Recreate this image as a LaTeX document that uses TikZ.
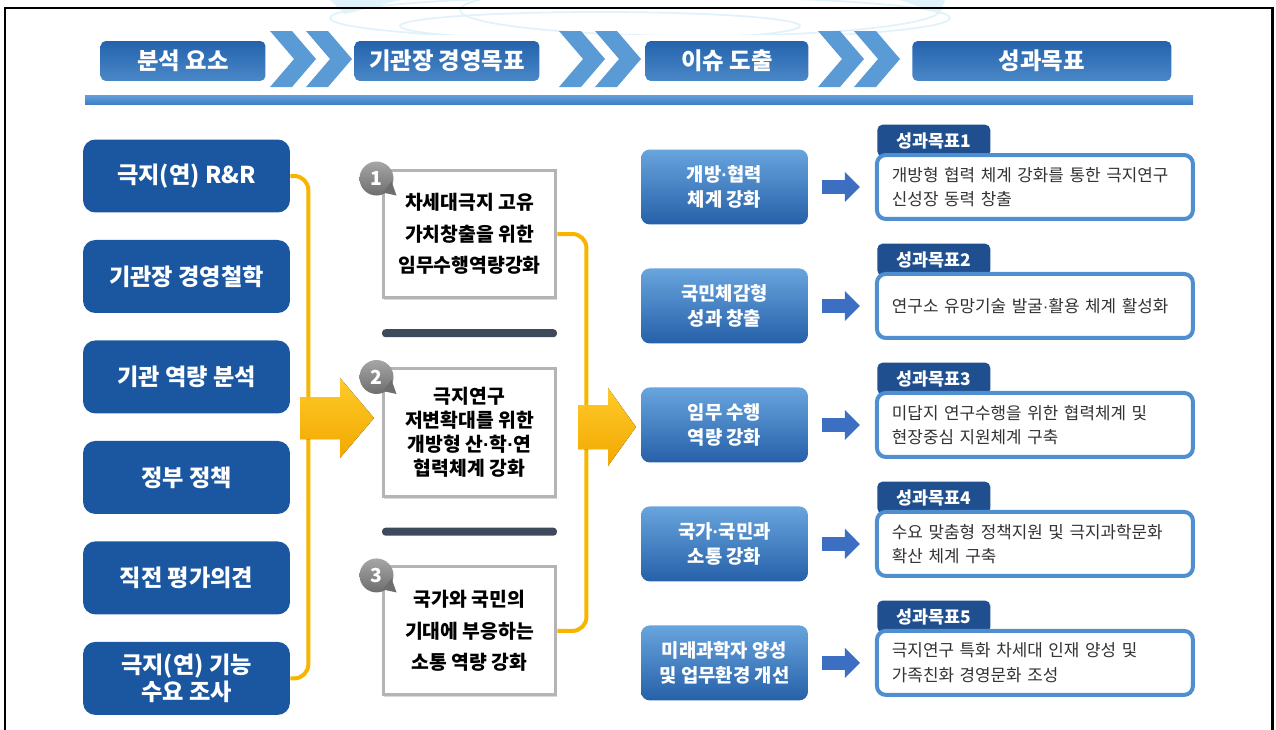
\documentclass[tikz,border=0pt]{standalone}
\usepackage{fontspec}
\setmainfont{Noto Sans CJK KR}
\newfontfamily\latinfont{Liberation Sans}
\newcommand{\mdot}{{\latinfont\bfseries ·}}
\usepackage{tikz}
\usetikzlibrary{arrows.meta,backgrounds,calc,positioning,shadows}

\definecolor{navy}{HTML}{1B57A0}
\definecolor{headtop}{HTML}{2463AC}
\definecolor{headbot}{HTML}{4A88C8}
\definecolor{chev}{HTML}{5B9BD5}
\definecolor{ruletop}{HTML}{64A1DA}
\definecolor{rulebot}{HTML}{3F80C4}
\definecolor{gold}{HTML}{F7B500}
\definecolor{ytop}{HTML}{FFCA2A}
\definecolor{ybot}{HTML}{F2A800}
\definecolor{framegray}{HTML}{B4B4B4}
\definecolor{slate}{HTML}{3E4A5C}
\definecolor{issuetop}{HTML}{68A4DD}
\definecolor{issuebot}{HTML}{2660A9}
\definecolor{goalblue}{HTML}{4F8FD0}
\definecolor{tabnavy}{HTML}{1F4F8F}
\definecolor{arrowblue}{HTML}{3C6EC2}
\definecolor{goaltext}{HTML}{333333}
\definecolor{badgetop}{HTML}{A6A6A6}
\definecolor{badgebot}{HTML}{6E6E6E}
\definecolor{wm}{HTML}{E0F2FA}

\tikzset{%
	head/.style      = {rounded corners=3pt, top color=headtop, bottom color=headbot, text=white, minimum height=0.8cm, font=\fontsize{13.3}{14}\selectfont\bfseries}, % step titles
	chevron/.style   = {fill=chev},
	factor/.style    = {rounded corners=7pt, fill=navy, text=white, minimum width=4.14cm, minimum height=1.46cm, align=center, font=\fontsize{13.2}{15.3}\selectfont\bfseries}, % analysis factors
	theme/.style     = {draw=framegray, line width=0.06cm, fill=white, minimum width=3.46cm, minimum height=2.56cm, align=center, drop shadow={shadow xshift=0.6pt, shadow yshift=-1.2pt, opacity=0.3}, font=\fontsize{11}{17.8}\selectfont\bfseries}, % management goals
	badge/.style     = {circle, top color=badgetop, bottom color=badgebot, text=white, minimum size=0.68cm, inner sep=0pt, font=\fontsize{11}{11}\selectfont\bfseries},
	divider/.style   = {fill=slate, rounded corners=2pt, minimum width=3.5cm, minimum height=0.16cm, inner sep=0pt},
	issue/.style     = {rounded corners=5pt, top color=issuetop, bottom color=issuebot, text=white, minimum width=3.34cm, minimum height=1.5cm, align=center, font=\fontsize{10.7}{14}\selectfont\bfseries}, % derived issues
	goal/.style      = {draw=goalblue, line width=0.08cm, rounded corners=5pt, fill=white, minimum height=1.28cm, text width=5.72cm, inner xsep=0.3cm, align=left, text=goaltext, font=\fontsize{9.6}{14}\selectfont}, % performance goals
	tab/.style       = {rounded corners=3pt, fill=tabnavy, text=white, minimum width=2.26cm, minimum height=0.64cm, inner sep=0pt, font=\fontsize{9.9}{10}\selectfont\bfseries},
	bracket/.style   = {draw=gold, line width=0.08cm, rounded corners=8pt},
	bigarrow/.style  = {top color=ytop, bottom color=ybot},
	goalarrow/.style = {draw=arrowblue, line width=0.28cm, -{Triangle[length=0.3cm, width=0.58cm]}, shorten <=0.28cm, shorten >=0.3cm},
}

\begin{document}
\begin{tikzpicture}[x=0.02cm, y=-0.02cm, node distance=2.01cm]
	\useasboundingbox (0,0) rectangle (1276,730);

	% faint logo behind the top edge
	\begin{scope}
		\clip (300,0) rectangle (960,34);
		\draw[wm, line width=1pt] (640,18) ellipse (310 and 22);
		\draw[wm, line width=1pt] (600,26) ellipse (200 and 14);
		\draw[wm, line width=1pt] (700,10) ellipse (240 and 26);
		\fill[wm] (330,0) -- (400,0) -- (345,14) -- cycle;
		\fill[wm] (900,0) -- (945,0) -- (940,14) -- cycle;
	\end{scope}
	\draw[line width=1.7pt] (5,730) -- (5,8) -- (1272,8) -- (1272,730);

	% title bar
	\node [head, minimum width=3.3cm] (h1) at (183,61) {분석 요소};
	\node [head, minimum width=3.7cm] (h2) [right of=h1, node distance=5.28cm] {기관장 경영목표};
	\node [head, minimum width=3.26cm] (h3) [right of=h2, node distance=5.6cm] {이슈 도출};
	\node [head, minimum width=5.18cm] (h4) [right of=h3, node distance=6.3cm] {성과목표};
	\foreach \x in {270,306,559,595,818,854}
		\fill [chevron] (\x,31) -- ++(22,0) -- ++(24,28) -- ++(-24,28) -- ++(-22,0) -- ++(24,-28) -- cycle;
	\fill [top color=ruletop, bottom color=rulebot] (85,95) rectangle (1193,104);

	% analysis factors
	\node [factor] (f1) at (186.5,176) {극지(연) R\&R};
	\node [factor] (f2) [below of=f1] {기관장 경영철학};
	\node [factor] (f3) [below of=f2] {기관 역량 분석};
	\node [factor] (f4) [below of=f3] {정부 정책};
	\node [factor] (f5) [below of=f4] {직전 평가의견};
	\node [factor] (f6) [below of=f5] {극지(연) 기능\\수요 조사};

	\draw [bracket] (f1.east) -- ++(18,0) |- (f6.east);
	\fill [bigarrow] (300,397) -- (340,397) -- (340,378) -- (374,418) -- (340,458) -- (340,439) -- (300,439) -- cycle;

	% management goals
	\node [theme] (m1) at (469.5,234) {차세대극지 고유\\가치창출을 위한\\임무수행역량강화};
	\node [theme, font=\fontsize{11}{13.6}\selectfont\bfseries] (m2) [below of=m1, node distance=3.97cm] {극지연구\\저변확대를 위한\\개방형 산\mdot 학\mdot 연\\협력체계 강화};
	\node [theme] (m3) [below of=m2, node distance=3.97cm] {국가와 국민의\\기대에 부응하는\\소통 역량 강화};
	\node [divider] (s1) at ($(m1.south)!0.5!(m2.north)$) {};
	\node [divider] (s2) at ($(m2.south)!0.5!(m3.north)$) {};
	\foreach \m/\n in {m1/1, m2/2, m3/3} {
		\node [badge] (b\n) at ($(\m.north west)+(-5,10)$) {\n};
		\fill [badgebot] ($(\m.north west)+(1,24)$) -- ($(\m.north west)+(15,27)$) -- ($(\m.north west)+(10,13)$) -- cycle;
	}

	\draw [bracket] (m1.east) -- ++(29,0) |- (m3.east);
	\fill [bigarrow] (578,405) -- (608,405) -- (608,388) -- (636,427) -- (608,466) -- (608,449) -- (578,449) -- cycle;

	% issues
	\node [issue] (i1) at (724.5,187) {개방\mdot 협력\\체계 강화};
	\node [issue] (i2) [below of=i1, node distance=2.38cm] {국민체감형\\성과 창출};
	\node [issue] (i3) [below of=i2, node distance=2.38cm] {임무 수행\\역량 강화};
	\node [issue] (i4) [below of=i3, node distance=2.38cm] {국가\mdot 국민과\\소통 강화};
	\node [issue] (i5) [below of=i4, node distance=2.38cm] {미래과학자 양성\\및 업무환경 개선};

	% performance goals
	\node [goal] (g1) [right of=i1, node distance=6.21cm] {개방형 협력 체계 강화를 통한 극지연구\\신성장 동력 창출};
	\node [goal] (g2) [right of=i2, node distance=6.21cm] {연구소 유망기술 발굴{\latinfont ·}활용 체계 활성화};
	\node [goal] (g3) [right of=i3, node distance=6.21cm] {미답지 연구수행을 위한 협력체계 및\\현장중심 지원체계 구축};
	\node [goal] (g4) [right of=i4, node distance=6.21cm] {수요 맞춤형 정책지원 및 극지과학문화\\확산 체계 구축};
	\node [goal] (g5) [right of=i5, node distance=6.21cm] {극지연구 특화 차세대 인재 양성 및\\가족친화 경영문화 조성};
	\begin{scope}[on background layer]
		\foreach \n in {1,...,5}
			\node [tab, anchor=south west] (t\n) at ($(g\n.north west)+(2,4)$) {성과목표\n};
	\end{scope}

	\foreach \n in {1,...,5}
		\draw [goalarrow] (i\n) -- (g\n);
\end{tikzpicture}
\end{document}
